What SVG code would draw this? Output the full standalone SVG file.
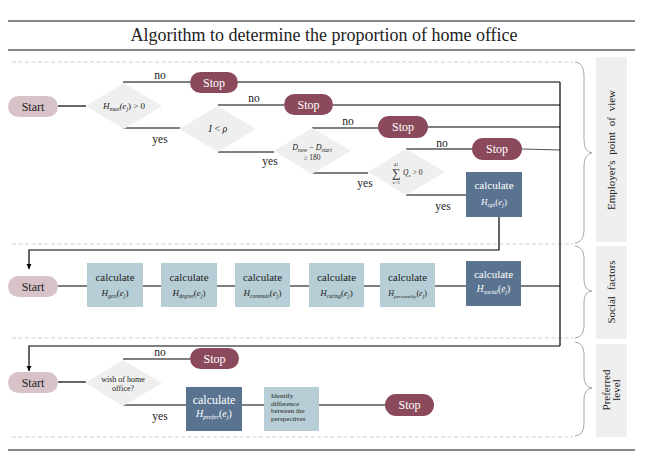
<svg xmlns="http://www.w3.org/2000/svg" width="649" height="452" viewBox="0 0 649 452" font-family="Liberation Serif, serif">
<defs>
<style>
text, tspan {font-family: 'Liberation Serif', 'Times New Roman', serif;}
text{fill:#222}
.rule{stroke:#111;stroke-width:1.2}
.dash{stroke:#cfcfcf;stroke-width:1;stroke-dasharray:4 2.5;fill:none}
.c{stroke:#000;stroke-width:1.2;fill:none}
.start{fill:#d7c2c8}
.stop{fill:#8b4a5b}
.dia{fill:#efefef}
.dark{fill:#5a7390}
.light{fill:#b7ced6}
.lab{fill:#efefef}
.brace{stroke:#a8a8a8;stroke-width:1;fill:none}
.t12{font-size:12px;text-anchor:middle}
.w{fill:#fff}
.m{font-style:italic;text-anchor:middle}
.yn{font-size:11.5px;text-anchor:middle}
</style>
<marker id="arr" markerWidth="6" markerHeight="6" refX="5" refY="3" orient="auto" markerUnits="userSpaceOnUse">
<path d="M0,0.5 L5,3 L0,5.5 z" fill="#000"/>
</marker>
</defs>
<rect width="649" height="452" fill="#fff"/>
<g id="title">
<line class="rule" x1="8" y1="21" x2="635" y2="21"/>
<line class="rule" x1="8" y1="50" x2="635" y2="50"/>
<line class="rule" x1="8" y1="450" x2="635" y2="450"/>
<text x="324" y="41" font-family="Liberation Serif, serif" style="font-size:18px;text-anchor:middle">Algorithm to determine the proportion of home office</text>
</g>
<g id="separators">
<line class="dash" x1="12" y1="62" x2="573" y2="62"/>
<line class="dash" x1="12" y1="244" x2="573" y2="244"/>
<line class="dash" x1="12" y1="338" x2="573" y2="338"/>
<line class="dash" x1="12" y1="437" x2="573" y2="437"/>
</g>
<g id="connectors">
<line class="c" x1="58" y1="106" x2="86" y2="106"/>
<polyline class="c" points="123,82 190,82"/>
<line class="c" x1="238" y1="82" x2="560" y2="82"/>
<polyline class="c" points="123,128 180,128"/>
<polyline class="c" points="218,105 284,105"/>
<line class="c" x1="333" y1="105" x2="560" y2="105"/>
<polyline class="c" points="218,152 274,152"/>
<polyline class="c" points="312,128 378,128"/>
<line class="c" x1="428" y1="127" x2="560" y2="127"/>
<polyline class="c" points="312,173 368,173"/>
<polyline class="c" points="406,149 472,149"/>
<line class="c" x1="522" y1="149" x2="560" y2="150" style="stroke:#555"/>
<polyline class="c" points="406,195 466,195"/>
<line class="c" x1="560" y1="82" x2="560" y2="346"/>
<polyline class="c" points="499,217 499,250 29,250 29,269" marker-end="url(#arr)"/>
<line class="c" x1="58" y1="286" x2="560" y2="286"/>
<polyline class="c" points="560,346 29,346 29,371" marker-end="url(#arr)"/>
<line class="c" x1="58" y1="382" x2="86" y2="382"/>
<polyline class="c" points="123,359 190,359"/>
<polyline class="c" points="123,405 186,405"/>
<line class="c" x1="242" y1="405" x2="385" y2="405"/>
<text class="yn" x="160" y="79">no</text>
<text class="yn" x="160" y="143">yes</text>
<text class="yn" x="254" y="102">no</text>
<text class="yn" x="270" y="165">yes</text>
<text class="yn" x="348" y="125">no</text>
<text class="yn" x="365" y="187">yes</text>
<text class="yn" x="442" y="147">no</text>
<text class="yn" x="443" y="210">yes</text>
<text class="yn" x="160" y="356">no</text>
<text class="yn" x="160" y="420">yes</text>
</g>
<g id="start1"><rect class="start" x="8" y="96" width="50" height="21" rx="10.5"/><text class="t12" x="33" y="110.5">Start</text></g>
<g id="dec1"><polygon class="dia" points="86,106 124,83 162,106 124,129"/>
<text class="m" x="124" y="109" style="font-size:9px">H<tspan style="font-size:6px" dy="2">max</tspan><tspan dy="-2">(e</tspan><tspan style="font-size:6px" dy="2">j</tspan><tspan dy="-2" style="font-style:normal">) &gt; 0</tspan></text></g>
<g id="stop1"><rect class="stop" x="190" y="72" width="48" height="21" rx="10.5"/><text class="t12 w" x="214" y="86.5">Stop</text></g>
<g id="dec2"><polygon class="dia" points="179,129 218,106 256,129 218,152"/>
<text class="m" x="218" y="132" style="font-size:10px">I <tspan style="font-style:normal">&lt;</tspan> ρ</text></g>
<g id="stop2"><rect class="stop" x="284" y="94" width="49" height="21" rx="10.5"/><text class="t12 w" x="308.5" y="108.5">Stop</text></g>
<g id="dec3"><polygon class="dia" points="274,151 312,128 351,151 312,174"/>
<text class="m" x="312" y="150" style="font-size:8px">D<tspan style="font-size:5.5px" dy="1.5">now</tspan><tspan dy="-1.5" style="font-style:normal"> − </tspan>D<tspan style="font-size:5.5px" dy="1.5">start</tspan></text>
<text x="312" y="160" style="font-size:7.5px;text-anchor:middle">≥ 180</text></g>
<g id="stop3"><rect class="stop" x="378" y="116" width="50" height="22" rx="11"/><text class="t12 w" x="403" y="131">Stop</text></g>
<g id="dec4"><polygon class="dia" points="368,172 406,149 445,172 406,195"/>
<text x="396" y="177" style="font-size:12px;text-anchor:middle">∑</text>
<text x="396" y="166" style="font-size:4.5px;text-anchor:middle">41</text>
<text x="396" y="184" style="font-size:4.5px;text-anchor:middle">x=3</text>
<text x="403" y="175" style="font-size:7.5px;font-style:italic">Q<tspan style="font-size:5px" dy="1.5">x</tspan><tspan dy="-1.5" style="font-style:normal"> &gt; 0</tspan></text></g>
<g id="stop4"><rect class="stop" x="472" y="138" width="50" height="22" rx="11"/><text class="t12 w" x="497" y="153">Stop</text></g>
<g id="hopt"><rect class="dark" x="466" y="172" width="56" height="45"/>
<text class="t12 w" x="494" y="189" style="font-size:11px">calculate</text>
<text class="m w" x="494" y="205" style="font-size:9px">H<tspan style="font-size:6px" dy="2">opt</tspan><tspan dy="-2" style="font-style:normal">(</tspan>e<tspan style="font-size:6px" dy="2">j</tspan><tspan dy="-2" style="font-style:normal">)</tspan></text></g>

<g id="start2"><rect class="start" x="8" y="276" width="50" height="21" rx="10.5"/><text class="t12" x="33" y="290.5">Start</text></g>
<g id="hgen"><rect class="light" x="87" y="263" width="56" height="44"/>
<text class="t12" x="115" y="281" style="font-size:11px">calculate</text>
<text class="m" x="115" y="296" style="font-size:9px">H<tspan style="font-size:6px" dy="2">gen</tspan><tspan dy="-2" style="font-style:normal">(</tspan>e<tspan style="font-size:6px" dy="2">j</tspan><tspan dy="-2" style="font-style:normal">)</tspan></text></g>
<g id="hdegree"><rect class="light" x="161" y="263" width="56" height="44"/>
<text class="t12" x="189" y="281" style="font-size:11px">calculate</text>
<text class="m" x="189" y="296" style="font-size:9px">H<tspan style="font-size:5.5px" dy="2">degree</tspan><tspan dy="-2" style="font-style:normal">(</tspan>e<tspan style="font-size:6px" dy="2">j</tspan><tspan dy="-2" style="font-style:normal">)</tspan></text></g>
<g id="hcommute"><rect class="light" x="235" y="263" width="55" height="44"/>
<text class="t12" x="262.5" y="281" style="font-size:11px">calculate</text>
<text class="m" x="262.5" y="296" style="font-size:9px">H<tspan style="font-size:5.5px" dy="2">commute</tspan><tspan dy="-2" style="font-style:normal">(</tspan>e<tspan style="font-size:6px" dy="2">j</tspan><tspan dy="-2" style="font-style:normal">)</tspan></text></g>
<g id="hcaring"><rect class="light" x="309" y="263" width="55" height="44"/>
<text class="t12" x="336.5" y="281" style="font-size:11px">calculate</text>
<text class="m" x="336.5" y="296" style="font-size:9px">H<tspan style="font-size:5.5px" dy="2">caring</tspan><tspan dy="-2" style="font-style:normal">(</tspan>e<tspan style="font-size:6px" dy="2">j</tspan><tspan dy="-2" style="font-style:normal">)</tspan></text></g>
<g id="hpersonality"><rect class="light" x="380" y="263" width="55" height="44"/>
<text class="t12" x="407.5" y="281" style="font-size:11px">calculate</text>
<text class="m" x="407.5" y="296" style="font-size:8px">H<tspan style="font-size:5px" dy="2">personality</tspan><tspan dy="-2" style="font-style:normal">(</tspan>e<tspan style="font-size:5.5px" dy="2">j</tspan><tspan dy="-2" style="font-style:normal">)</tspan></text></g>
<g id="hsocial"><rect class="dark" x="466" y="261" width="55" height="45"/>
<text class="t12 w" x="493.5" y="278" style="font-size:11px">calculate</text>
<text class="m w" x="493.5" y="292" style="font-size:9.5px">H<tspan style="font-size:6px" dy="2">social</tspan><tspan dy="-2" style="font-style:normal">(</tspan>e<tspan style="font-size:6px" dy="2">j</tspan><tspan dy="-2" style="font-style:normal">)</tspan></text></g>

<g id="start3"><rect class="start" x="8" y="372" width="50" height="21" rx="10.5"/><text class="t12" x="33" y="386.5">Start</text></g>
<g id="dec5"><polygon class="dia" points="85,383 123,360 162,383 123,406"/>
<text x="123" y="382" style="font-size:8px;text-anchor:middle">wish of home</text>
<text x="123" y="391" style="font-size:8px;text-anchor:middle">office?</text></g>
<g id="stop5"><rect class="stop" x="190" y="348" width="49" height="21" rx="10.5"/><text class="t12 w" x="214.5" y="362.5">Stop</text></g>
<g id="hprefer"><rect class="dark" x="186" y="387" width="56" height="44"/>
<text class="t12 w" x="214" y="404" style="font-size:12px">calculate</text>
<text class="m w" x="214" y="417" style="font-size:10px">H<tspan style="font-size:6.5px" dy="2">prefer</tspan><tspan dy="-2" style="font-style:normal">(</tspan>e<tspan style="font-size:6.5px" dy="2">j</tspan><tspan dy="-2" style="font-style:normal">)</tspan></text></g>
<g id="identify"><rect class="light" x="264" y="387" width="55" height="44"/>
<text x="271" y="398" style="font-size:7px">Identify</text>
<text x="271" y="405.5" style="font-size:7px">difference</text>
<text x="271" y="413" style="font-size:7px">between the</text>
<text x="271" y="420.5" style="font-size:7px">perspectives</text></g>
<g id="stop6"><rect class="stop" x="385" y="394" width="49" height="22" rx="11"/><text class="t12 w" x="409.5" y="409">Stop</text></g>

<g id="brace1"><path class="brace" d="M575,62 Q584,63 584,75 L584,140 Q584,152 592,153 Q584,154 584,166 L584,230 Q584,242 575,243"/></g>
<g id="brace2"><path class="brace" d="M575,246 Q584,247 584,258 L584,280 Q584,290 592,291 Q584,292 584,302 L584,326 Q584,337 575,338"/></g>
<g id="brace3"><path class="brace" d="M575,342 Q584,343 584,354 L584,377 Q584,387 592,388 Q584,389 584,399 L584,424 Q584,435 575,436"/></g>
<g id="label1"><rect class="lab" x="596" y="57" width="31" height="185"/>
<text transform="translate(615,150) rotate(-90)" style="font-size:11px;text-anchor:middle;word-spacing:3px">Employer's point of view</text></g>
<g id="label2"><rect class="lab" x="596" y="246" width="31" height="93"/>
<text transform="translate(615,292) rotate(-90)" style="font-size:11px;text-anchor:middle;word-spacing:3px">Social factors</text></g>
<g id="label3"><rect class="lab" x="596" y="344" width="31" height="93"/>
<text transform="translate(610,390) rotate(-90)" style="font-size:11px;text-anchor:middle">Preferred</text>
<text transform="translate(620,390) rotate(-90)" style="font-size:11px;text-anchor:middle">level</text></g>
</svg>
